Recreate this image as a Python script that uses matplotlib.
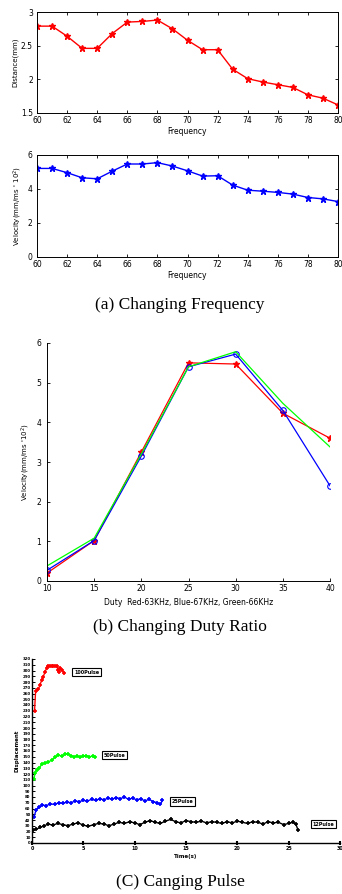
import matplotlib
matplotlib.use("Agg")
import matplotlib.pyplot as plt

# ---------------- data ----------------
freq = [60, 61, 62, 63, 64, 65, 66, 67, 68, 69, 70, 71, 72, 73, 74, 75, 76, 77, 78, 79, 80]
distance = [2.79, 2.79, 2.64, 2.46, 2.46, 2.68, 2.85, 2.86, 2.88, 2.75, 2.58, 2.44, 2.44, 2.15, 2.01, 1.96, 1.92, 1.88, 1.77, 1.72, 1.62]
velocity = [5.21, 5.21, 4.96, 4.66, 4.60, 5.05, 5.47, 5.47, 5.55, 5.35, 5.07, 4.76, 4.78, 4.23, 3.93, 3.87, 3.80, 3.70, 3.50, 3.42, 3.26]

duty = [10, 15, 20, 25, 30, 35, 40]
vel_red = [0.20, 1.02, 3.25, 5.50, 5.47, 4.23, 3.60]
vel_blue = [0.27, 1.02, 3.15, 5.40, 5.72, 4.30, 2.40]
vel_green = [0.38, 1.08, 3.20, 5.40, 5.78, 4.48, 3.38]

t_100 = [0.25, 0.35, 0.62, 0.78, 0.94, 1.10, 1.27, 1.43, 1.59, 1.75, 1.92, 2.08, 2.24, 2.40, 2.56, 2.66, 2.73, 2.90, 3.15]
d_100 = [230, 264, 267, 275, 283, 289, 298, 304, 307, 307, 308, 308, 308, 307, 301, 298, 304, 301, 296]

t_50 = [0.19, 0.29, 0.45, 0.71, 0.94, 1.27, 1.59, 1.92, 2.24, 2.56, 2.9, 3.2, 3.5, 3.8, 4.1, 4.4, 4.7, 5.0, 5.3, 5.6, 5.9, 6.13]
d_50 = [112, 121, 127, 130, 137, 139, 141, 144, 149, 153, 151, 154, 155, 152, 150, 151, 149, 151, 152, 150, 151, 149]

t_25 = [0.2, 0.4, 0.7, 1.0, 1.4, 1.8, 2.2, 2.6, 3.0, 3.4, 3.8, 4.2, 4.6, 5.0, 5.4, 5.8, 6.2, 6.6, 7.0, 7.4,
        7.8, 8.2, 8.6, 9.0, 9.4, 9.8, 10.2, 10.6, 11.0, 11.4, 11.8, 12.2, 12.5, 12.7]
d_25 = [45, 58, 62, 66, 65, 68, 67, 70, 69, 71, 70, 73, 72, 74, 73, 76, 74, 77, 75, 78,
        76, 79, 77, 80, 76, 78, 75, 77, 73, 76, 72, 70, 67, 74]

t_12 = [0.1, 0.4, 0.8, 1.2, 1.6, 2.0, 2.5, 3.0, 3.5, 4.0, 4.5, 5.0, 5.5, 6.0, 6.5, 7.0, 7.5, 8.0, 8.5, 9.0,
        9.5, 10.0, 10.5, 11.0, 11.5, 12.0, 12.5, 13.0, 13.5, 14.0, 14.5, 15.0, 15.5, 16.0, 16.5, 17.0, 17.5,
        18.0, 18.5, 19.0, 19.5, 20.0, 20.5, 21.0, 21.5, 22.0, 22.5, 23.0, 23.5, 24.0, 24.5, 25.0, 25.4, 25.7, 25.9]
d_12 = [22, 24, 27, 30, 33, 31, 34, 32, 30, 33, 35, 31, 29, 32, 34, 33, 30, 33, 36, 34,
        37, 35, 32, 36, 39, 36, 34, 38, 41, 37, 35, 39, 37, 36, 38, 35, 37,
        36, 34, 37, 35, 38, 36, 34, 37, 36, 33, 37, 35, 36, 32, 34, 36, 33, 23]

pulse_labels = ["100Pulse", "50Pulse", "25Pulse", "12Pulse"]

# ---------------- figure ----------------
W, H = 342, 894
fig = plt.figure(figsize=(W / 100, H / 100), dpi=100)
fig.patch.set_facecolor("white")


def ax_px(l, t, r, b):
    return fig.add_axes([l / W, 1 - b / H, (r - l) / W, (b - t) / H])


serif = ["Liberation Serif", "DejaVu Serif"]

# ---- panel (a) top: distance ----
ax1 = ax_px(37, 12, 338, 113)
ax1.plot(freq, distance, color="#ff0000", marker="*", markersize=5, lw=1)
ax1.set_xlim(60, 80)
ax1.set_ylim(1.5, 3)
ax1.set_xticks(range(60, 81, 2))
ax1.set_yticks([1.5, 2, 2.5, 3])
ax1.set_yticklabels(["1.5", "2", "2.5", "3"])
ax1.tick_params(direction="in", top=True, right=True, length=2.5, width=0.6, labelsize=5.5)
ax1.tick_params(axis="x", pad=2.5)
ax1.tick_params(axis="y", pad=3)
ax1.set_xlabel("Frequency", fontsize=5.5, labelpad=1)
ax1.set_ylabel("Distance(mm)", fontsize=5, labelpad=2)
for s in ax1.spines.values():
    s.set_linewidth(0.7)

# ---- panel (a) bottom: velocity ----
ax2 = ax_px(37, 155, 338, 257)
ax2.plot(freq, velocity, color="#0000ff", marker="*", markersize=5, lw=1)
ax2.set_xlim(60, 80)
ax2.set_ylim(0, 6)
ax2.set_xticks(range(60, 81, 2))
ax2.set_yticks([0, 2, 4, 6])
ax2.tick_params(direction="in", top=True, right=True, length=2.5, width=0.6, labelsize=5.5)
ax2.tick_params(axis="x", pad=2.5)
ax2.tick_params(axis="y", pad=3.5)
ax2.set_xlabel("Frequency", fontsize=5.5, labelpad=1)
ax2.set_ylabel("Velocity(mm/ms ' 10$^2$)", fontsize=5, labelpad=2)
for s in ax2.spines.values():
    s.set_linewidth(0.7)

fig.text(180 / W, 1 - 305 / H, "(a) Changing Frequency", ha="center", va="center",
         fontsize=12.5, family=serif)

# ---- panel (b): duty ratio ----
ax3 = ax_px(47, 343, 330, 581)
ax3.plot(duty, vel_red, color="#ff0000", marker="*", markersize=5, lw=0.9)
ax3.plot(duty, vel_blue, color="#0000ff", marker="o", markersize=4, mfc="none", mew=0.8, lw=0.9)
ax3.plot(duty, vel_green, color="#00ff00", lw=0.9)
ax3.set_xlim(10, 40)
ax3.set_ylim(0, 6)
ax3.set_xticks(range(10, 41, 5))
ax3.set_yticks(range(0, 7))
ax3.spines["top"].set_visible(False)
ax3.spines["right"].set_visible(False)
for s in ax3.spines.values():
    s.set_linewidth(0.7)
ax3.tick_params(direction="in", length=2.5, width=0.6, labelsize=5.5)
ax3.tick_params(axis="x", pad=2.5)
ax3.tick_params(axis="y", pad=4)
ax3.set_xlabel("Duty  Red-63KHz, Blue-67KHz, Green-66KHz", fontsize=5.5, labelpad=3)
ax3.set_ylabel("Velocity(mm/ms '10$^2$)", fontsize=5, labelpad=3)

fig.text(180 / W, 1 - 627 / H, "(b) Changing Duty Ratio", ha="center", va="center",
         fontsize=12.5, family=serif)

# ---- panel (c): pulses ----
ax4 = ax_px(32, 659, 340, 843)
mk = dict(marker="+", markersize=3, mew=1.2, lw=1)
ax4.plot(t_100, d_100, color="#ff0000", **mk)
ax4.plot(t_50, d_50, color="#00ff00", **mk)
ax4.plot(t_25, d_25, color="#0000ff", **mk)
ax4.plot(t_12, d_12, color="#000000", **mk)
ax4.set_xlim(0, 30)
ax4.set_ylim(0, 320)
ax4.set_xticks(range(0, 31, 5))
ax4.set_yticks(range(0, 321, 10))
ax4.spines["top"].set_visible(False)
ax4.spines["right"].set_visible(False)
for s in ax4.spines.values():
    s.set_linewidth(1.0)
ax4.tick_params(axis="y", direction="in", length=2, width=0.7, labelsize=2.8, pad=1)
ax4.tick_params(axis="x", direction="inout", length=3, width=1.5, labelsize=3.5, pad=0.5)
for lab in ax4.get_xticklabels() + ax4.get_yticklabels():
    lab.set_fontweight("bold")
ax4.set_xlabel("Time(s)", fontsize=4, fontweight="bold", labelpad=2)
ax4.set_ylabel("Displacement", fontsize=4, fontweight="bold", labelpad=2)

box = dict(boxstyle="square,pad=0.35", fc="white", ec="black", lw=0.8)
label_pos = [(4.1, 297), (7.0, 153), (13.6, 72), (27.3, 33)]
for (lx, ly), txt in zip(label_pos, pulse_labels):
    ax4.text(lx, ly, txt, fontsize=3.5, fontweight="bold", va="center", ha="left", bbox=box)

fig.text(180 / W, 1 - 882 / H, "(C) Canging Pulse", ha="center", va="center",
         fontsize=12.5, family=serif)

fig.savefig("out.png", dpi=100, facecolor="white")
